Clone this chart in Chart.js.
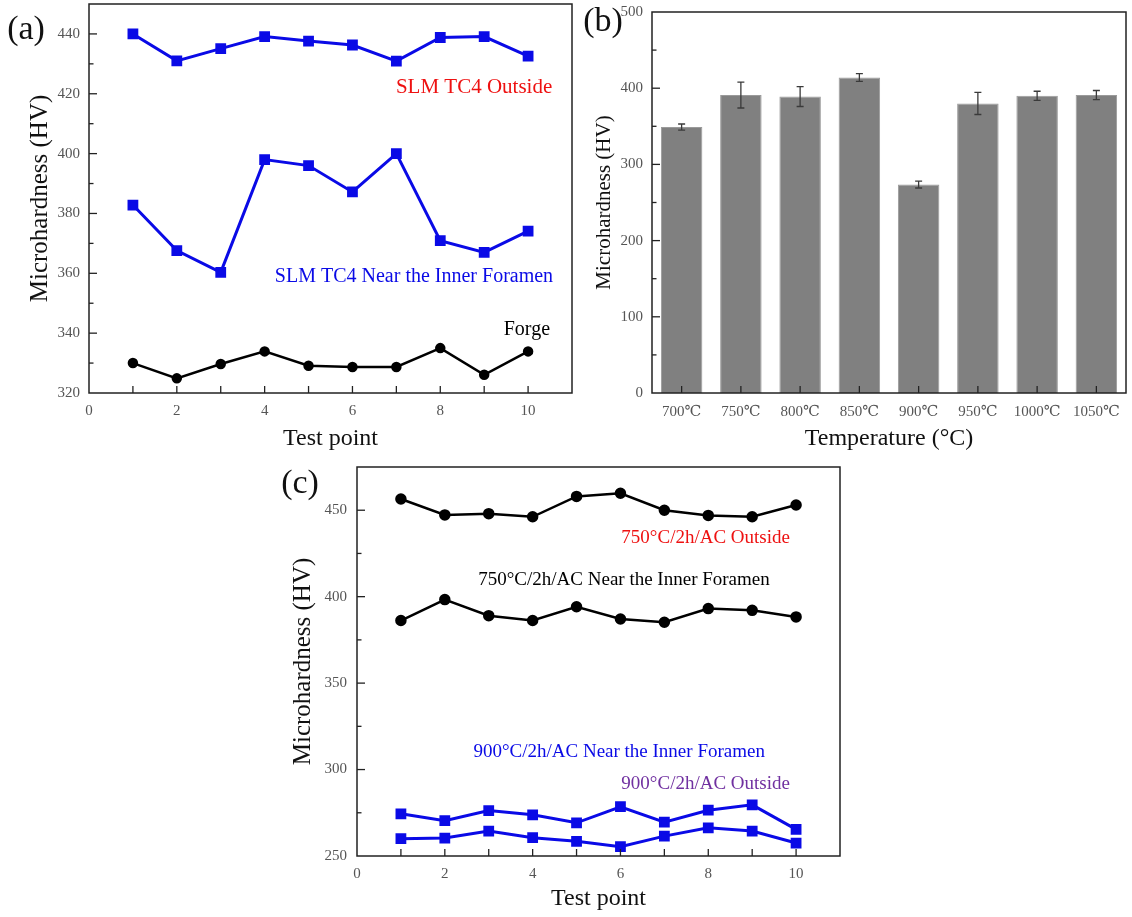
<!DOCTYPE html>
<html>
<head>
<meta charset="utf-8">
<script src="https://cdn.jsdelivr.net/npm/chart.js@4.4.1/dist/chart.umd.min.js"></script>
<style>
  html, body { margin: 0; padding: 0; background: #fff; }
  body { width: 1132px; height: 917px; position: relative; overflow: hidden; }
  canvas { position: absolute; }
</style>
</head>
<body>
<canvas id="ca" width="576" height="455" style="left:0;top:0"></canvas>
<canvas id="cb" width="556" height="455" style="left:576px;top:0"></canvas>
<canvas id="cc" width="590" height="462" style="left:270px;top:455px"></canvas>
<script>
// ---------- Data ----------
const testPoints = [1, 2, 3, 4, 5, 6, 7, 8, 9, 10];

// Panel (a)
const slmOutside = [440, 431, 435.1, 439.1, 437.6, 436.3, 430.9, 438.8, 439.1, 432.6];
const slmNearForamen = [382.8, 367.6, 360.3, 398, 396, 387.2, 400, 370.9, 367, 374.1];
const forge = [330, 324.9, 329.7, 333.9, 329.1, 328.7, 328.7, 335, 326.1, 333.9];

// Panel (b)
const temperatures = ['700\u2103', '750\u2103', '800\u2103', '850\u2103', '900\u2103', '950\u2103', '1000\u2103', '1050\u2103'];
const hardnessByTemp = [349, 391, 389, 414, 273.5, 380, 390, 391];
const hardnessErr = [4, 17, 13, 5, 4.5, 14.5, 6, 6];

// Panel (c)
const t750Outside = [456.5, 447.3, 448, 446.2, 458, 459.8, 450, 447, 446.2, 453];
const t750NearForamen = [386.2, 398.3, 389, 386.2, 394.2, 387.1, 385.2, 393.1, 392.1, 388.3];
const t900NearForamen = [274.4, 270.4, 276.3, 273.8, 269.2, 278.5, 269.6, 276.5, 279.6, 265.4];
const t900Outside = [260, 260.4, 264.4, 260.6, 258.5, 255.4, 261.5, 266.3, 264.4, 257.5];

// ---------- Common ----------
const SERIF = "'Liberation Serif', 'Times New Roman', 'DejaVu Serif', serif";
Chart.defaults.font.family = SERIF;
Chart.defaults.animation = false;
Chart.defaults.devicePixelRatio = 1;
const BLUE = '#0a0ae6';
const TICKC = '#555555';

const xy = (vals) => testPoints.map((p, i) => ({ x: p, y: vals[i] }));

// frame + inward ticks + annotations + panel label
const decor = {
  id: 'decor',
  afterDraw(chart, args, o) {
    const ctx = chart.ctx, a = chart.chartArea;
    const xs = chart.scales.x, ys = chart.scales.y;
    ctx.save();
    ctx.strokeStyle = '#222';
    ctx.lineWidth = 1.5;
    ctx.strokeRect(a.left, a.top, a.right - a.left, a.bottom - a.top);
    ctx.lineWidth = 1.3;
    const MJ = 7, MN = 4.5;
    const near = (v, e) => Math.abs(v - e) < 1.5;
    xs.ticks.forEach((t, i) => {
      const px = xs.getPixelForTick(i);
      if (near(px, a.left) || near(px, a.right)) return;
      ctx.beginPath(); ctx.moveTo(px, a.bottom); ctx.lineTo(px, a.bottom - MJ); ctx.stroke();
    });
    if (xs.type === 'linear') {
      for (let i = 0; i < xs.ticks.length - 1; i++) {
        const px = xs.getPixelForValue((xs.ticks[i].value + xs.ticks[i + 1].value) / 2);
        ctx.beginPath(); ctx.moveTo(px, a.bottom); ctx.lineTo(px, a.bottom - MJ); ctx.stroke();
      }
    }
    ys.ticks.forEach((t, i) => {
      const py = ys.getPixelForTick(i);
      if (near(py, a.top) || near(py, a.bottom)) return;
      ctx.beginPath(); ctx.moveTo(a.left, py); ctx.lineTo(a.left + MJ + 1, py); ctx.stroke();
    });
    for (let i = 0; i < ys.ticks.length - 1; i++) {
      const py = ys.getPixelForValue((ys.ticks[i].value + ys.ticks[i + 1].value) / 2);
      ctx.beginPath(); ctx.moveTo(a.left, py); ctx.lineTo(a.left + MN, py); ctx.stroke();
    }
    (o.notes || []).forEach(n => {
      ctx.font = n.size + 'px ' + SERIF;
      ctx.fillStyle = n.color;
      ctx.textAlign = 'right';
      ctx.textBaseline = 'middle';
      ctx.fillText(n.text, xs.getPixelForValue(n.x), ys.getPixelForValue(n.y));
    });
    if (o.label) {
      ctx.font = o.label.size + 'px ' + SERIF;
      ctx.fillStyle = '#111';
      ctx.textAlign = 'center';
      ctx.textBaseline = 'middle';
      ctx.fillText(o.label.text, o.label.x, o.label.y);
    }
    ctx.restore();
  }
};

// error bars for panel (b)
const errBars = {
  id: 'errBars',
  afterDatasetsDraw(chart, args, o) {
    if (!o.errors) return;
    const ctx = chart.ctx, ys = chart.scales.y;
    const meta = chart.getDatasetMeta(0);
    ctx.save();
    ctx.strokeStyle = '#3a3a3a';
    ctx.lineWidth = 1.3;
    meta.data.forEach((bar, i) => {
      const v = chart.data.datasets[0].data[i], e = o.errors[i];
      const y1 = ys.getPixelForValue(v + e), y2 = ys.getPixelForValue(v - e), x = bar.x, w = 3.5;
      ctx.beginPath();
      ctx.moveTo(x, y1); ctx.lineTo(x, y2);
      ctx.moveTo(x - w, y1); ctx.lineTo(x + w, y1);
      ctx.moveTo(x - w, y2); ctx.lineTo(x + w, y2);
      ctx.stroke();
    });
    ctx.restore();
  }
};

const tickFont = { family: SERIF, size: 15 };
const dropAbove = (lim) => (scale) => { scale.ticks = scale.ticks.filter(t => t.value <= lim); };
const fixH = (h) => (s) => { s.height = h; s.paddingLeft = 0; s.paddingRight = 0; };
const fixW = (w) => (s) => { s.width = w; s.paddingTop = 0; s.paddingBottom = 0; };
const noGrid = { display: false, drawTicks: false };

// ---------- Panel (a) ----------
new Chart(document.getElementById('ca'), {
  type: 'line',
  plugins: [decor],
  data: {
    datasets: [
      { label: 'SLM TC4 Outside', data: xy(slmOutside), borderColor: BLUE, backgroundColor: BLUE, borderWidth: 3, pointStyle: 'rect', pointRadius: 5.5, tension: 0 },
      { label: 'SLM TC4 Near the Inner Foramen', data: xy(slmNearForamen), borderColor: BLUE, backgroundColor: BLUE, borderWidth: 3, pointStyle: 'rect', pointRadius: 5.5, tension: 0 },
      { label: 'Forge', data: xy(forge), borderColor: '#000', backgroundColor: '#000', borderWidth: 2.5, pointStyle: 'circle', pointRadius: 4, tension: 0 }
    ]
  },
  options: {
    responsive: false,
    layout: { autoPadding: false, padding: { top: 4, right: 4, left: 0, bottom: 0 } },
    plugins: {
      legend: { display: false }, tooltip: { enabled: false },
      decor: {
        label: { text: '(a)', x: 26, y: 30, size: 34 },
        notes: [
          { text: 'SLM TC4 Outside', x: 10.55, y: 422, color: '#ee1111', size: 21 },
          { text: 'SLM TC4 Near the Inner Foramen', x: 10.57, y: 359, color: BLUE, size: 20 },
          { text: 'Forge', x: 10.5, y: 341.3, color: '#000', size: 20 }
        ]
      }
    },
    scales: {
      x: {
        type: 'linear', min: 0, max: 11,
        afterBuildTicks: dropAbove(10),
        afterFit: fixH(62),
        ticks: { stepSize: 2, color: TICKC, font: tickFont, padding: 9, maxRotation: 0 },
        grid: noGrid, border: { display: false },
        title: { display: true, text: 'Test point', color: '#111', font: { family: SERIF, size: 24 }, padding: { top: 0, bottom: 2 } }
      },
      y: {
        min: 320, max: 450,
        afterBuildTicks: dropAbove(440),
        afterFit: fixW(89),
        ticks: { stepSize: 20, color: TICKC, font: tickFont, padding: 9 },
        grid: noGrid, border: { display: false },
        title: { display: true, text: 'Microhardness (HV)', color: '#111', font: { family: SERIF, size: 25 }, padding: { top: 25, bottom: 0 } }
      }
    }
  }
});

// ---------- Panel (b) ----------
new Chart(document.getElementById('cb'), {
  type: 'bar',
  plugins: [errBars, decor],
  data: {
    labels: temperatures,
    datasets: [{ label: 'Microhardness', data: hardnessByTemp, backgroundColor: '#808080', borderColor: '#9a9a9a', borderWidth: 1, barPercentage: 0.7, categoryPercentage: 1 }]
  },
  options: {
    responsive: false,
    layout: { autoPadding: false, padding: { top: 12, right: 6, left: 0, bottom: 0 } },
    plugins: {
      legend: { display: false }, tooltip: { enabled: false },
      errBars: { errors: hardnessErr },
      decor: { label: { text: '(b)', x: 27, y: 22, size: 34 } }
    },
    scales: {
      x: {
        afterFit: fixH(62),
        ticks: { color: TICKC, font: tickFont, padding: 10, maxRotation: 0, autoSkip: false },
        grid: noGrid, border: { display: false },
        title: { display: true, text: 'Temperature (\u00B0C)', color: '#111', font: { family: SERIF, size: 24 }, padding: { top: 0, bottom: 2 } }
      },
      y: {
        min: 0, max: 500,
        afterFit: fixW(76),
        ticks: { stepSize: 100, color: TICKC, font: tickFont, padding: 9 },
        grid: noGrid, border: { display: false },
        title: { display: true, text: 'Microhardness (HV)', color: '#111', font: { family: SERIF, size: 21 }, padding: { top: 16, bottom: 0 } }
      }
    }
  }
});

// ---------- Panel (c) ----------
new Chart(document.getElementById('cc'), {
  type: 'line',
  plugins: [decor],
  data: {
    datasets: [
      { label: '750°C/2h/AC Outside', data: xy(t750Outside), borderColor: '#000', backgroundColor: '#000', borderWidth: 2.5, pointStyle: 'circle', pointRadius: 4.5, tension: 0 },
      { label: '750°C/2h/AC Near the Inner Foramen', data: xy(t750NearForamen), borderColor: '#000', backgroundColor: '#000', borderWidth: 2.5, pointStyle: 'circle', pointRadius: 4.5, tension: 0 },
      { label: '900°C/2h/AC Near the Inner Foramen', data: xy(t900NearForamen), borderColor: BLUE, backgroundColor: BLUE, borderWidth: 3, pointStyle: 'rect', pointRadius: 5.5, tension: 0 },
      { label: '900°C/2h/AC Outside', data: xy(t900Outside), borderColor: BLUE, backgroundColor: BLUE, borderWidth: 3, pointStyle: 'rect', pointRadius: 5.5, tension: 0 }
    ]
  },
  options: {
    responsive: false,
    layout: { autoPadding: false, padding: { top: 12, right: 20, left: 0, bottom: 0 } },
    plugins: {
      legend: { display: false }, tooltip: { enabled: false },
      decor: {
        label: { text: '(c)', x: 30, y: 29, size: 34 },
        notes: [
          { text: '750\u00B0C/2h/AC Outside', x: 9.86, y: 433.8, color: '#ee1111', size: 19 },
          { text: '750\u00B0C/2h/AC Near the Inner Foramen', x: 9.4, y: 409.6, color: '#000', size: 19 },
          { text: '900\u00B0C/2h/AC Near the Inner Foramen', x: 9.29, y: 310.4, color: BLUE, size: 19 },
          { text: '900\u00B0C/2h/AC Outside', x: 9.86, y: 291.9, color: '#7030a0', size: 19 }
        ]
      }
    },
    scales: {
      x: {
        type: 'linear', min: 0, max: 11,
        afterBuildTicks: dropAbove(10),
        afterFit: fixH(61),
        ticks: { stepSize: 2, color: TICKC, font: tickFont, padding: 9, maxRotation: 0 },
        grid: noGrid, border: { display: false },
        title: { display: true, text: 'Test point', color: '#111', font: { family: SERIF, size: 24 }, padding: { top: 0, bottom: 4 } }
      },
      y: {
        min: 250, max: 475,
        afterBuildTicks: dropAbove(450),
        afterFit: fixW(87),
        ticks: { stepSize: 50, color: TICKC, font: tickFont, padding: 10 },
        grid: noGrid, border: { display: false },
        title: { display: true, text: 'Microhardness (HV)', color: '#111', font: { family: SERIF, size: 25 }, padding: { top: 18, bottom: 0 } }
      }
    }
  }
});
</script>
</body>
</html>
